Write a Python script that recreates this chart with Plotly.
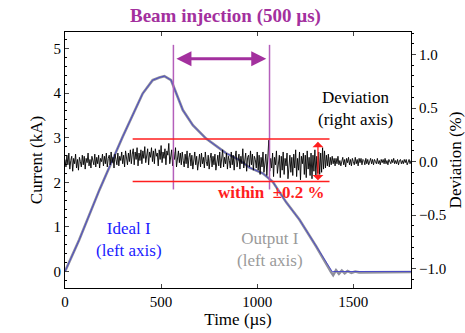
import numpy as np
import plotly.graph_objects as go

# ---- data ----
ideal_t = [0, 74, 179, 300, 404, 456, 491, 517, 552, 578, 613, 665, 734, 839, 908, 960,
           1029, 1081, 1151, 1220, 1307, 1390, 1800]
ideal_I = [0, 0.71, 1.83, 3.02, 3.99, 4.29, 4.35, 4.38, 4.29, 3.99, 3.62, 3.28, 2.98, 2.65,
           2.50, 2.33, 2.20, 2.01, 1.55, 1.16, 0.56, 0.0, 0.0]

output_t = [0, 74, 179, 300, 404, 456, 491, 517, 552, 578, 613, 665, 734, 839, 908, 960,
            1029, 1081, 1151, 1220, 1307, 1385, 1395, 1410, 1425, 1440, 1455, 1470, 1490,
            1510, 1530, 1800]
output_I = [0, 0.71, 1.83, 3.02, 3.99, 4.29, 4.35, 4.38, 4.29, 3.99, 3.62, 3.28, 2.98, 2.65,
            2.50, 2.33, 2.20, 2.01, 1.55, 1.16, 0.56, -0.02, -0.08, 0.03, -0.05, 0.02, -0.04,
            0.01, -0.03, 0.00, -0.02, -0.01]

dev_step = 5  # us, sampling of deviation trace (0..1800)
dev_pct = [
    0.02,-0.05,0.06,-0.03,0.08,-0.07,0.01,0.05,-0.09,0.03,
    -0.02,0.07,-0.06,0.02,-0.08,0.04,0.00,-0.05,0.06,-0.03,
    0.05,-0.07,0.03,-0.01,0.08,-0.04,0.02,-0.06,0.05,0.01,
    -0.03,0.07,-0.05,0.04,-0.02,0.06,-0.06,0.03,0.00,0.07,
    -0.04,0.05,-0.02,0.08,-0.05,0.03,0.06,-0.03,0.09,-0.01,
    0.04,-0.06,0.07,0.02,-0.03,0.08,-0.04,0.05,0.01,0.09,
    -0.02,0.06,-0.05,0.10,0.03,-0.03,0.08,0.00,0.11,-0.02,
    0.07,
    0.12,-0.03,0.09,0.02,0.13,-0.04,0.08,0.01,0.11,-0.02,
    0.10,0.03,0.14,-0.01,0.07,0.12,-0.03,0.09,0.04,0.13,
    0.00,0.10,-0.02,0.12,0.05,0.08,-0.04,0.11,0.02,0.15,
    -0.01,0.09,0.03,0.12,-0.03,0.10,0.06,0.17,-0.02,0.08,
    0.11,-0.04,0.09,0.02,0.13,-0.05,0.07,0.10,-0.01,0.08,
    -0.03,0.09,0.01,-0.05,0.07,-0.02,0.10,-0.06,0.04,0.08,
    -0.04,0.06,-0.07,0.03,0.09,-0.03,0.05,-0.08,0.02,0.07,
    -0.05,0.08,-0.02,0.04,-0.06,0.09,0.00,-0.04,0.06,-0.07,
    0.03,0.08,-0.05,0.05,-0.03,0.07,-0.08,0.02,0.06,-0.04,
    0.09,-0.06,0.03,0.11,-0.05,0.04,-0.02,0.08,-0.07,0.05,
    0.01,-0.06,0.09,-0.03,0.06,-0.08,0.04,0.10,-0.05,0.02,
    0.07,-0.07,0.05,-0.02,0.12,-0.06,0.03,0.08,-0.09,0.04,
    0.06,-0.05,0.10,-0.03,0.07,-0.08,0.05,0.02,-0.06,0.09,
    -0.08,0.06,-0.12,0.04,-0.05,0.09,-0.10,0.02,0.07,-0.13,
    0.05,0.20,-0.09,0.03,-0.06,0.08,-0.14,0.04,-0.03,0.10,
    -0.11,0.01,0.06,-0.15,0.05,-0.08,0.09,-0.12,0.03,-0.04,
    0.08,-0.16,0.02,0.06,-0.10,0.04,-0.13,0.07,-0.06,0.11,
    -0.14,0.03,-0.08,0.09,-0.17,0.05,-0.02,0.08,-0.12,0.06,
    -0.15,0.10,-0.07,0.04,-0.13,0.08,-0.16,0.06,-0.09,0.11,
    -0.14,0.05,-0.11,0.09,
    -0.12,0.08,-0.10,0.13,-0.07,0.10,-0.06,0.06,-0.04,0.07,
    -0.05,0.04,-0.03,0.05,-0.02,0.03,
    -0.04,0.03,-0.02,0.05,-0.03,0.01,-0.04,0.02,0.04,-0.03,
    0.02,-0.05,0.03,-0.01,0.04,-0.03,0.02,-0.04,0.03,0.00,
    -0.03,0.04,-0.02,0.02,-0.04,0.03,-0.01,0.03,-0.03,0.02,
    0.01,-0.03,0.03,-0.02,0.02,-0.03,0.01,0.03,-0.02,0.02,
    -0.03,0.02,0.00,-0.02,0.03,-0.02,0.01,-0.03,0.02,-0.01,
    0.02,-0.02,0.03,-0.02,0.01,-0.03,0.02,0.00,-0.02,0.02,
    -0.01,0.03,-0.02,0.01,-0.02,0.02,-0.03,0.01,0.02,-0.02,
    0.01,-0.02,0.02,-0.01,0.02,-0.03,0.01,0.02,-0.02,0.01,
]
dev_t = np.arange(len(dev_pct)) * dev_step

beam_start, beam_end = 564, 1064   # us
band_hi, band_lo = 0.21, -0.185    # %
band_t0, band_t1 = 352, 1376

FONT = "Times New Roman, Liberation Serif, serif"
PURPLE = "#A3309E"
PURPLE_L = "#B45FBB"
RED = "#FF1E1E"

fig = go.Figure()
fig.add_trace(go.Scatter(x=dev_t, y=dev_pct, yaxis="y2", mode="lines",
                         line=dict(color="black", width=0.9), showlegend=False))
fig.add_trace(go.Scatter(x=output_t, y=output_I, mode="lines",
                         line=dict(color="#8E8E9C", width=2.6), showlegend=False))
fig.add_trace(go.Scatter(x=ideal_t, y=ideal_I, mode="lines",
                         line=dict(color="#3A3AD0", width=0.8), showlegend=False))

shapes = []
for t in (beam_start, beam_end):
    shapes.append(dict(type="line", xref="x", yref="y2", x0=t, x1=t, y0=1.09, y1=-0.26,
                       line=dict(color=PURPLE_L, width=1.5)))
for yv in (band_hi, band_lo):
    shapes.append(dict(type="line", xref="x", yref="y2", x0=band_t0, x1=band_t1, y0=yv, y1=yv,
                       line=dict(color=RED, width=1.5)))

ann = [
    dict(text="<b>Beam injection (500 µs)</b>", xref="paper", yref="paper", x=0.465, y=1.0,
         yanchor="bottom", yshift=3, showarrow=False,
         font=dict(family=FONT, size=19, color=PURPLE)),
    # purple double arrow
    dict(x=1047, y=0.96, ax=572, ay=0.96, xref="x", yref="y2", axref="x", ayref="y2",
         text="", showarrow=True, arrowhead=2, startarrowhead=2, arrowside="end+start",
         arrowwidth=3, arrowsize=1, startarrowsize=1, arrowcolor=PURPLE),
    # red double arrow
    dict(x=1316, y=band_lo + 0.01, ax=1316, ay=band_hi - 0.01, xref="x", yref="y2",
         axref="x", ayref="y2", text="", showarrow=True, arrowhead=1, startarrowhead=1,
         arrowside="end+start", arrowwidth=1.3, arrowsize=1.4, startarrowsize=1.4,
         arrowcolor=RED),
    dict(text="<b>within  ±0.2 %</b>", x=1075, y=-0.285, xref="x", yref="y2", showarrow=False,
         font=dict(family=FONT, size=17, color=RED)),
    dict(text="Deviation<br>(right axis)", x=1510, y=0.5, xref="x", yref="y2", showarrow=False,
         font=dict(family=FONT, size=17, color="black")),
    dict(text="Ideal I<br>(left axis)", x=335, y=0.71, xref="x", yref="y", showarrow=False,
         font=dict(family=FONT, size=17, color="#1A1AFF")),
    dict(text="Output I<br>(left axis)", x=1065, y=0.49, xref="x", yref="y", showarrow=False,
         font=dict(family=FONT, size=17, color="#9A9A9A")),
]

fig.update_layout(
    width=465, height=333,
    margin=dict(l=65, r=54, t=32, b=45),
    paper_bgcolor="white", plot_bgcolor="white",
    font=dict(family=FONT, size=15, color="black"),
    shapes=shapes, annotations=ann,
    xaxis=dict(range=[0, 1800], tickvals=[0, 500, 1000, 1500], ticks="inside", ticklen=4,
               showline=True, linecolor="black", linewidth=1, mirror="ticks",
               showgrid=False, zeroline=False, automargin=False,
               title=dict(text="Time (µs)", font=dict(size=17), standoff=0)),
    yaxis=dict(range=[-0.37, 5.37], tickvals=[0, 1, 2, 3, 4, 5], ticks="inside", ticklen=4,
               showline=True, linecolor="black", linewidth=1, showgrid=False, zeroline=False,
               automargin=False,
               minor=dict(dtick=0.2, ticks="inside", ticklen=2, tickcolor="black"),
               title=dict(text="Current (kA)", font=dict(size=17), standoff=6)),
    yaxis2=dict(range=[-1.18, 1.21], overlaying="y", side="right",
                tickvals=[-1.0, -0.5, 0.0, 0.5, 1.0],
                ticktext=["\u22121.0", "\u22120.5", "0.0", "0.5", "1.0"],
                ticks="outside", ticklen=4, showline=True, linecolor="black", linewidth=1,
                showgrid=False, zeroline=False, automargin=False,
                minor=dict(dtick=0.1, ticks="outside", ticklen=2, tickcolor="black"),
                title=dict(text="Deviation (%)", font=dict(size=17), standoff=2)),
)

fig.write_html("out.html", config={"displayModeBar": False},
               post_script="document.body.style.margin='0';document.body.style.padding='0';")
